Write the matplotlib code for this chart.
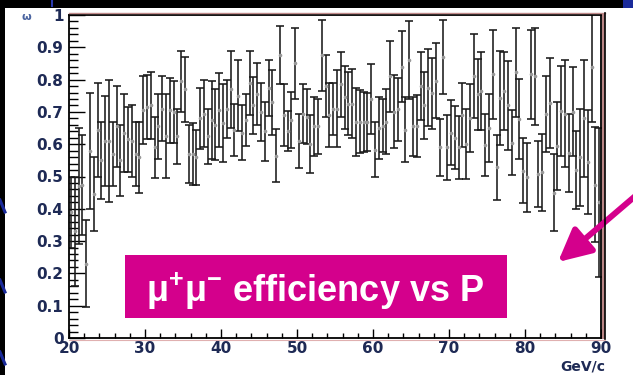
import numpy as np
import matplotlib
matplotlib.use("Agg")
import matplotlib.pyplot as plt
from matplotlib.patches import Rectangle, FancyArrowPatch
from matplotlib.lines import Line2D

# ---------------- data ----------------
p_min, p_max, bin_w = 20.0, 90.0, 0.5
eff = [0.39, 0.33, 0.47, 0.475, 0.23, 0.58, 0.445, 0.645, 0.55, 0.61, 0.61, 0.57, 0.655,
       0.55, 0.635, 0.615, 0.61, 0.57, 0.56, 0.705, 0.715, 0.72, 0.59, 0.655, 0.71, 0.625,
       0.705, 0.70, 0.625, 0.795, 0.77, 0.57, 0.57,
       0.56, 0.68, 0.695, 0.625, 0.675, 0.66, 0.705, 0.665, 0.71, 0.77, 0.645, 0.75, 0.635,
       0.675, 0.79, 0.72, 0.755, 0.70, 0.64, 0.775, 0.73, 0.565, 0.877, 0.69, 0.64, 0.675,
       0.85, 0.61, 0.695, 0.685, 0.60, 0.655, 0.655, 0.875, 0.78, 0.69,
       0.71, 0.71, 0.785, 0.745, 0.725, 0.725, 0.67, 0.67, 0.67, 0.67, 0.74, 0.583, 0.65,
       0.657, 0.67, 0.81, 0.70, 0.708, 0.84, 0.645, 0.86, 0.655, 0.656, 0.78, 0.72, 0.775,
       0.757, 0.797, 0.59, 0.87, 0.59, 0.636, 0.62, 0.59, 0.69,
       0.60, 0.68, 0.81, 0.754, 0.765, 0.598, 0.65, 0.817, 0.528, 0.744, 0.765, 0.72, 0.605,
       0.822, 0.677, 0.518, 0.497, 0.817, 0.81, 0.508, 0.513, 0.693, 0.727, 0.45, 0.594,
       0.703, 0.695, 0.573, 0.70, 0.52, 0.56, 0.68, 0.545, 0.84, 0.475, 0.42]
err = [0.11, 0.17, 0.18, 0.155, 0.135, 0.18, 0.115, 0.145, 0.12, 0.14, 0.19, 0.10, 0.125,
       0.11, 0.12, 0.10, 0.11, 0.10, 0.11, 0.105, 0.10, 0.105, 0.095, 0.10, 0.10, 0.13,
       0.10, 0.095, 0.085, 0.095, 0.10, 0.09, 0.095,
       0.085, 0.095, 0.105, 0.085, 0.12, 0.11, 0.115, 0.12, 0.09, 0.12, 0.08, 0.11, 0.085,
       0.08, 0.10, 0.088, 0.095, 0.09, 0.092, 0.087, 0.10, 0.083, 0.09, 0.095, 0.062, 0.087,
       0.11, 0.084, 0.09, 0.085, 0.09, 0.09, 0.085, 0.11, 0.097, 0.10,
       0.08, 0.12, 0.10, 0.097, 0.097, 0.107, 0.105, 0.098, 0.093, 0.09, 0.107, 0.085, 0.095,
       0.082, 0.10, 0.11, 0.113, 0.097, 0.11, 0.10, 0.12, 0.09, 0.095, 0.105, 0.105, 0.12,
       0.11, 0.117, 0.088, 0.115, 0.10, 0.10, 0.098, 0.098, 0.10,
       0.108, 0.105, 0.13, 0.11, 0.12, 0.097, 0.105, 0.138, 0.10, 0.146, 0.12, 0.138, 0.10,
       0.138, 0.124, 0.10, 0.107, 0.138, 0.15, 0.103, 0.12, 0.117, 0.14, 0.12, 0.137,
       0.138, 0.165, 0.12, 0.138, 0.12, 0.15, 0.18, 0.16, 0.17, 0.178, 0.23]
x_ticks = [20, 30, 40, 50, 60, 70, 80, 90]
y_ticks = [0, 0.1, 0.2, 0.3, 0.4, 0.5, 0.6, 0.7, 0.8, 0.9, 1]
y_ticklabels = ["0", "0.1", "0.2", "0.3", "0.4", "0.5", "0.6", "0.7", "0.8", "0.9", "1"]
x_label = "GeV/c"
y_label = "ω"
title_text = r"$\mu^{+}\mu^{-}$ efficiency vs P"

p_centers = np.arange(p_min + bin_w / 2, p_max, bin_w)[:len(eff)]

# ---------------- figure ----------------
W, H = 633, 375
fig = plt.figure(figsize=(W / 100, H / 100), dpi=100, facecolor="white")
plt.rcParams["mathtext.default"] = "regular"

def fx(px):
    return px / W

def fy(py):
    return 1 - py / H

ax_l, ax_r, ax_t, ax_b = 69, 601, 15, 338
ax = fig.add_axes([fx(ax_l), fy(ax_b), fx(ax_r) - fx(ax_l), fy(ax_t) - fy(ax_b)])
ax.set_xlim(p_min, p_max)
ax.set_ylim(0, 1)

ax.errorbar(p_centers, eff, yerr=err, fmt="o", ms=1.6, mfc="#999999", mec="#999999",
            ecolor="#1a1a1a", elinewidth=1.15, capsize=2.8, capthick=1.15, clip_on=True)

lab_col = "#1e2a55"
tick_font = dict(family=["DejaVu Sans"], weight="bold", size=11)
ax.set_xticks(x_ticks)
ax.set_xticklabels([str(t) for t in x_ticks], color=lab_col, **tick_font)
ax.set_yticks(y_ticks)
ax.set_yticklabels(y_ticklabels, color=lab_col, **tick_font)
ax.set_xticks(np.arange(20, 91, 2), minor=True)
ax.set_yticks(np.arange(0, 1.001, 0.02), minor=True)
ax.tick_params(axis="x", which="major", direction="in", length=6.5, width=1.0, pad=2.5)
ax.tick_params(axis="x", which="minor", direction="in", length=3.3, width=1.0)
ax.tick_params(axis="y", which="major", direction="in", length=11.5, width=1.0, pad=4)
ax.tick_params(axis="y", which="minor", direction="in", length=6.5, width=1.0)
for s in ax.spines.values():
    s.set_linewidth(1.3)
    s.set_color("black")

# pinkish frame lines (top, right strip, bottom)
fig.add_artist(Line2D([fx(ax_l), fx(605)], [fy(13), fy(13)], color="#c08a8a", lw=1.0))
fig.add_artist(Line2D([fx(ax_l), fx(605)], [fy(340), fy(340)], color="#e0b0b0", lw=0.8))
fig.add_artist(Rectangle((fx(601.5), fy(339)), fx(3), fy(13) - fy(339),
                         facecolor="#b98585", edgecolor="none"))
fig.add_artist(Line2D([fx(605), fx(605)], [fy(339), fy(13)], color="black", lw=1.2))

# axis titles
fig.text(fx(605), fy(367), x_label, ha="right", va="center", color=lab_col,
         family=["DejaVu Sans"], weight="bold", size=10)
fig.text(fx(26), fy(17), y_label, ha="center", va="center", color="#4a64a0",
         family=["DejaVu Sans"], weight="bold", size=8)

# slide background bits
fig.add_artist(Rectangle((0, fy(8)), 1, fy(0) - fy(8), facecolor="black", edgecolor="none"))
fig.add_artist(Rectangle((0, 0), fx(5), 1, facecolor="black", edgecolor="none"))
for y0 in (200, 280, 352):
    fig.add_artist(Line2D([0, fx(5)], [fy(y0), fy(y0 + 12)], color="#1a2a9a", lw=2.2))
fig.add_artist(Line2D([fx(52), fx(52)], [fy(0), fy(6)], color="#2a3ab0", lw=1.5))
fig.add_artist(Rectangle((fx(623), fy(8)), fx(10), fy(0) - fy(8), facecolor="#1a2a9a",
                         edgecolor="none"))

# magenta label box
magenta = "#d4008c"
fig.add_artist(Rectangle((fx(125), fy(318)), fx(507) - fx(125), fy(255) - fy(318),
                         facecolor=magenta, edgecolor="none"))
fig.text(fx(315), fy(302), title_text, ha="center", va="baseline", color="white",
         family=["Liberation Sans", "DejaVu Sans"], weight="bold", size=26)

# arrow
fig.add_artist(FancyArrowPatch(
    posA=(640, H - 192), posB=(558, H - 262), transform=None,
    arrowstyle="-|>,head_length=0.9,head_width=0.45", mutation_scale=22,
    color=magenta, lw=4.3, shrinkA=0, shrinkB=0))

fig.savefig("out.png", dpi=100, facecolor="white")
